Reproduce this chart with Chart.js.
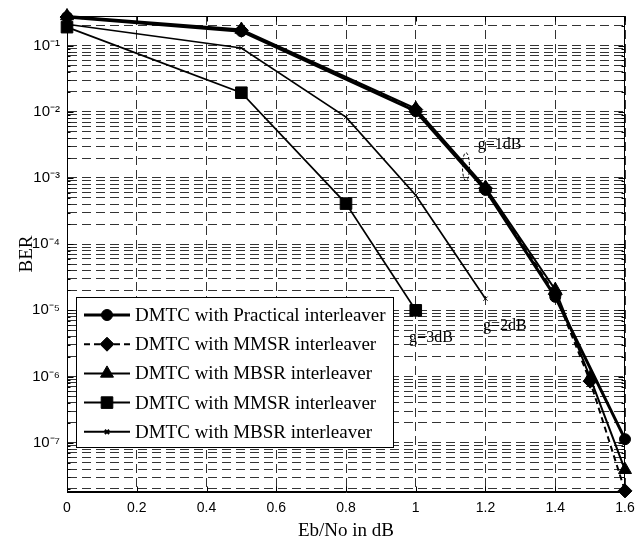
<!DOCTYPE html>
<html>
<head>
<meta charset="utf-8">
<script src="https://cdn.jsdelivr.net/npm/chart.js@4.4.1/dist/chart.umd.min.js"></script>
<style>
html,body{margin:0;padding:0;background:#fff;}
#wrap{width:644px;height:544px;}
</style>
</head>
<body>
<div id="wrap"><canvas id="c" width="644" height="544"></canvas></div>
<script>
// ---------------- data ----------------
const seriesLabels = [
  'DMTC with Practical interleaver',
  'DMTC with MMSR interleaver',
  'DMTC with MBSR interleaver',
  'DMTC with MMSR interleaver',
  'DMTC with MBSR interleaver'
];
const practicalX   = [0, 0.5, 1.0, 1.2, 1.4, 1.6];
const practicalBER = [0.27, 0.165, 0.0102, 6.6e-4, 1.6e-5, 1.13e-7];
const mmsrX        = [0, 0.5, 1.0, 1.2, 1.4, 1.5, 1.6];
const mmsrBER      = [0.27, 0.17, 0.0108, 7.0e-4, 1.75e-5, 8.5e-7, 1.87e-8];
const mbsrX        = [0, 0.5, 1.0, 1.2, 1.4, 1.5, 1.6];
const mbsrBER      = [0.28, 0.175, 0.0112, 7.2e-4, 2.05e-5, 9.6e-7, 3.9e-8];
const mmsr2X       = [0, 0.5, 0.8, 1.0];
const mmsr2BER     = [0.19, 0.0194, 4.1e-4, 1.0e-5];
const mbsr2X       = [0, 0.5, 0.8, 1.0, 1.2];
const mbsr2BER     = [0.21, 0.092, 8.3e-3, 5.5e-4, 1.5e-5];

const xTicks       = [0, 0.2, 0.4, 0.6, 0.8, 1.0, 1.2, 1.4, 1.6];
const xTickLabels  = ['0', '0.2', '0.4', '0.6', '0.8', '1', '1.2', '1.4', '1.6'];
const yDecades     = [1e-7, 1e-6, 1e-5, 1e-4, 1e-3, 1e-2, 1e-1];
const yDecadeLabels= ['10\u207B\u2077', '10\u207B\u2076', '10\u207B\u2075', '10\u207B\u2074', '10\u207B\u00B3', '10\u207B\u00B2', '10\u207B\u00B9'];
const yMin = 1.8e-8, yMax = 0.28;

const annotationTexts = ['g=1dB', 'g=2dB', 'g=3dB'];
const annotationX     = [1.178, 1.193, 0.981];
const annotationY     = [3.2e-3, 5.9e-6, 3.9e-6];
const ellipseX = 1.144, ellipseY = 1.48e-3;

// minor grid values 1..9 x 10^k inside the range
const yGrid = [];
for (let k = -8; k <= 0; k++) {
  for (let m = 1; m <= 9; m++) {
    const v = parseFloat((m * Math.pow(10, k)).toPrecision(3));
    if (v >= yMin && v <= yMax) yGrid.push(v);
  }
}

function pts(xs, ys) { return xs.map((x, i) => ({x: x, y: ys[i]})); }

const styles = [
  {pointStyle: 'circle',   pointRadius: 5.5, borderWidth: 3,   borderDash: []},
  {pointStyle: 'rectRot',  pointRadius: 7,   borderWidth: 2,   borderDash: [6, 4]},
  {pointStyle: 'triangle', pointRadius: 7.5, borderWidth: 2,   borderDash: []},
  {pointStyle: 'rect',     pointRadius: 8.2, borderWidth: 1.7, borderDash: []},
  {pointStyle: 'crossRot', pointRadius: 3,   borderWidth: 1.7, borderDash: []}
];
const seriesData = [
  pts(practicalX, practicalBER),
  pts(mmsrX, mmsrBER),
  pts(mbsrX, mbsrBER),
  pts(mmsr2X, mmsr2BER),
  pts(mbsr2X, mbsr2BER)
];

const datasets = seriesData.map((d, i) => ({
  label: seriesLabels[i],
  data: d,
  borderColor: '#000',
  backgroundColor: '#000',
  borderWidth: styles[i].borderWidth,
  borderDash: styles[i].borderDash,
  pointStyle: styles[i].pointStyle,
  pointRadius: styles[i].pointRadius,
  pointBorderWidth: 1,
  pointBackgroundColor: '#000',
  pointBorderColor: '#000',
  tension: 0,
  fill: false,
  clip: false
}));

const SERIF = '"Liberation Serif", "Times New Roman", serif';
const SANS = '"Liberation Sans", Arial, sans-serif';

// frame + inner ticks + annotations
const framePlugin = {
  id: 'frame',
  afterDraw(chart) {
    const {ctx, chartArea: a, scales} = chart;
    ctx.save();
    ctx.strokeStyle = '#000';
    ctx.lineWidth = 1;
    const L = Math.round(a.left) + 0.5, R = Math.round(a.right) - 0.5;
    const T = Math.round(a.top) + 0.5, B = Math.round(a.bottom) - 0.5;
    ctx.beginPath();
    scales.x.ticks.forEach(t => {
      const px = Math.round(scales.x.getPixelForValue(t.value)) + 0.5;
      ctx.moveTo(px, B); ctx.lineTo(px, B - 5);
      ctx.moveTo(px, T); ctx.lineTo(px, T + 5);
    });
    scales.y.ticks.forEach(t => {
      const py = Math.round(scales.y.getPixelForValue(t.value)) + 0.5;
      const lg = Math.log10(t.value);
      const len = Math.abs(lg - Math.round(lg)) < 1e-6 ? 6 : 3;
      ctx.moveTo(L, py); ctx.lineTo(L + len, py);
      ctx.moveTo(R, py); ctx.lineTo(R - len, py);
    });
    ctx.stroke();
    ctx.strokeRect(L, T, R - L, B - T);

    // annotations
    ctx.fillStyle = '#000';
    ctx.font = '16px ' + SERIF;
    ctx.textAlign = 'left';
    ctx.textBaseline = 'middle';
    annotationTexts.forEach((txt, i) => {
      ctx.fillText(txt, scales.x.getPixelForValue(annotationX[i]), scales.y.getPixelForValue(annotationY[i]));
    });
    ctx.setLineDash([3, 2]);
    ctx.beginPath();
    ctx.ellipse(scales.x.getPixelForValue(ellipseX), scales.y.getPixelForValue(ellipseY), 3.5, 14, 0, 0, Math.PI * 2);
    ctx.stroke();
    ctx.restore();
  }
};

// MATLAB-style legend box
const legendPlugin = {
  id: 'matlabLegend',
  afterDatasetsDraw(chart) {
    const {ctx} = chart;
    const box = {x: 76, y: 297, w: 317, h: 150};
    ctx.save();
    ctx.fillStyle = '#fff';
    ctx.fillRect(box.x, box.y, box.w, box.h);
    ctx.strokeStyle = '#000';
    ctx.lineWidth = 1;
    ctx.strokeRect(box.x + 0.5, box.y + 0.5, box.w, box.h);
    const rowH = 29.2;
    chart.data.datasets.forEach((ds, i) => {
      const cy = box.y + 18 + i * rowH;
      ctx.save();
      ctx.strokeStyle = '#000';
      ctx.lineWidth = Math.max(ds.borderWidth, 2);
      ctx.setLineDash(ds.borderDash || []);
      ctx.beginPath();
      ctx.moveTo(84, cy); ctx.lineTo(130, cy);
      ctx.stroke();
      ctx.setLineDash([]);
      ctx.fillStyle = '#000';
      ctx.lineWidth = ds.pointStyle === 'crossRot' ? 2 : 1;
      Chart.helpers.drawPoint(ctx, {pointStyle: ds.pointStyle, radius: ds.pointRadius, rotation: 0, borderWidth: ctx.lineWidth}, 107, cy);
      ctx.restore();
      ctx.fillStyle = '#000';
      ctx.font = '19px ' + SERIF;
      ctx.textAlign = 'left';
      ctx.textBaseline = 'middle';
      ctx.fillText(ds.label, 135, cy + 1);
    });
    ctx.restore();
  }
};

new Chart(document.getElementById('c'), {
  type: 'line',
  data: {datasets: datasets},
  options: {
    responsive: false,
    animation: false,
    events: [],
    layout: {padding: {top: 9, right: 19, left: 0, bottom: 0}},
    plugins: {legend: {display: false}, tooltip: {enabled: false}},
    scales: {
      x: {
        type: 'linear',
        min: 0, max: 1.6,
        afterBuildTicks(scale) { scale.ticks = xTicks.map(v => ({value: v})); },
        afterFit(scale) { scale.height = 52; },
        ticks: {
          autoSkip: false, maxRotation: 0,
          padding: 8,
          color: '#000',
          font: {family: SANS, size: 14},
          callback: (v, i) => xTickLabels[i]
        },
        grid: {color: '#333', lineWidth: 1, drawTicks: false},
        border: {display: true, color: '#000', width: 1, dash: [9, 5]},
        title: {display: true, text: 'Eb/No in dB', color: '#000', font: {family: SERIF, size: 19}, padding: {top: 0, bottom: 2}}
      },
      y: {
        type: 'logarithmic',
        min: yMin, max: yMax,
        afterBuildTicks(scale) { scale.ticks = yGrid.map(v => ({value: v})); },
        afterFit(scale) { scale.width = 67; },
        ticks: {
          autoSkip: false,
          padding: 7,
          color: '#000',
          font: {family: SANS, size: 15},
          callback: (v) => {
            for (let i = 0; i < yDecades.length; i++) {
              if (Math.abs(Math.log10(v) - Math.log10(yDecades[i])) < 1e-6) return yDecadeLabels[i];
            }
            return '';
          }
        },
        grid: {color: '#333', lineWidth: 1, drawTicks: false},
        border: {display: true, color: '#000', width: 1, dash: [9, 5]},
        title: {display: true, text: 'BER', color: '#000', font: {family: SERIF, size: 19}, padding: {top: 16, bottom: 0}}
      }
    }
  },
  plugins: [legendPlugin, framePlugin]
});
</script>
</body>
</html>
